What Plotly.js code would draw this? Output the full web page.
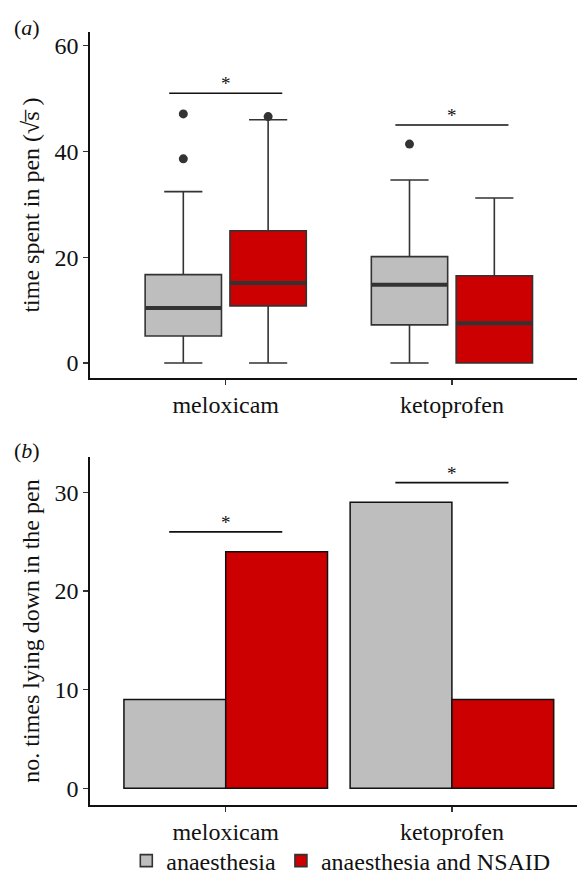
<!DOCTYPE html>
<html>
<head>
<meta charset="utf-8">
<script src="https://cdn.plot.ly/plotly-3.0.1.min.js"></script>
<style>html,body{margin:0;padding:0;background:#fff;}#chart{width:577px;height:879px;}</style>
</head>
<body>
<div id="chart"></div>
<script>
// ---- data ----
const categories = ['meloxicam', 'ketoprofen'];
const groupNames = ['anaesthesia', 'anaesthesia and NSAID'];

// panel (a): time spent in pen (sqrt s), box statistics
const anaQ1 = [5.1, 7.2];
const anaMedian = [10.4, 14.8];
const anaQ3 = [16.7, 20.1];
const anaLow = [0, 0];
const anaHigh = [32.4, 34.6];
const anaOutlierCat = ['meloxicam', 'meloxicam', 'ketoprofen'];
const anaOutlierVal = [47.1, 38.6, 41.4];

const nsQ1 = [10.8, 0];
const nsMedian = [15.1, 7.5];
const nsQ3 = [25.0, 16.5];
const nsLow = [0, 0];
const nsHigh = [46.0, 31.2];
const nsOutlierCat = ['meloxicam'];
const nsOutlierVal = [46.6];

// panel (b): number of times lying down in the pen
const anaCount = [9, 29];
const nsCount = [24, 9];

// significance bars
const sigA = [51, 45];
const sigB = [26, 31];
const sigLabel = ['*', '*'];

const ticksA = [0, 20, 40, 60];
const ticksB = [0, 10, 20, 30];

// ---- styles ----
const GREY = '#bebebe';
const RED = '#cc0000';
const EDGE = '#333333';
const FONT = '"Liberation Serif", "Times New Roman", serif';
const FS = 24;

const traces = [];
function boxTrace(name, q1, med, q3, lo, hi, fill, grp, legend) {
  return {
    type: 'box', name: name, x: categories, q1: q1, median: med, q3: q3,
    lowerfence: lo, upperfence: hi, boxpoints: false,
    fillcolor: fill, line: {color: EDGE, width: 1.6},
    offsetgroup: grp, alignmentgroup: 'a', xaxis: 'x', yaxis: 'y',
    showlegend: legend, legendgroup: grp, hoverinfo: 'y'
  };
}
traces.push(boxTrace(groupNames[0], anaQ1, anaMedian, anaQ3, anaLow, anaHigh, GREY, 'ana', true));
traces.push(boxTrace(groupNames[1], nsQ1, nsMedian, nsQ3, nsLow, nsHigh, RED, 'ns', true));
// thick median overlays
traces.push(Object.assign(boxTrace('median', anaMedian, anaMedian, anaMedian, anaMedian, anaMedian, 'rgba(0,0,0,0)', 'ana', false), {line: {color: EDGE, width: 4}, hoverinfo: 'skip'}));
traces.push(Object.assign(boxTrace('median', nsMedian, nsMedian, nsMedian, nsMedian, nsMedian, 'rgba(0,0,0,0)', 'ns', false), {line: {color: EDGE, width: 4}, hoverinfo: 'skip'}));
// outliers
traces.push({type: 'scatter', mode: 'markers', x: anaOutlierCat, y: anaOutlierVal, marker: {color: EDGE, size: 9},
  offsetgroup: 'ana', alignmentgroup: 's', xaxis: 'x', yaxis: 'y', showlegend: false});
traces.push({type: 'scatter', mode: 'markers', x: nsOutlierCat, y: nsOutlierVal, marker: {color: EDGE, size: 9},
  offsetgroup: 'ns', alignmentgroup: 's', xaxis: 'x', yaxis: 'y', showlegend: false});
// bars
traces.push({type: 'bar', name: groupNames[0], x: categories, y: anaCount, marker: {color: GREY, line: {color: '#111', width: 1.5}},
  xaxis: 'x2', yaxis: 'y2', showlegend: false});
traces.push({type: 'bar', name: groupNames[1], x: categories, y: nsCount, marker: {color: RED, line: {color: '#111', width: 1.5}},
  xaxis: 'x2', yaxis: 'y2', showlegend: false});

const shapes = [];
const annotations = [];
categories.forEach((c, i) => {
  shapes.push({type: 'line', xref: 'x', yref: 'y', x0: c, x1: c, x0shift: -0.25, x1shift: 0.25, y0: sigA[i], y1: sigA[i], line: {color: '#111', width: 1.6}});
  shapes.push({type: 'line', xref: 'x2', yref: 'y2', x0: c, x1: c, x0shift: -0.25, x1shift: 0.25, y0: sigB[i], y1: sigB[i], line: {color: '#111', width: 1.6}});
  annotations.push({xref: 'x', yref: 'y', x: c, y: sigA[i], text: sigLabel[i], showarrow: false, yanchor: 'bottom', yshift: -3, font: {size: 19, color: '#111', family: FONT}});
  annotations.push({xref: 'x2', yref: 'y2', x: c, y: sigB[i], text: sigLabel[i], showarrow: false, yanchor: 'bottom', yshift: -3, font: {size: 19, color: '#111', family: FONT}});
});
annotations.push({xref: 'paper', yref: 'paper', x: -0.16, y: 1.006, xanchor: 'left', yanchor: 'middle', text: '(<i>a</i>)', showarrow: false, font: {size: 22, color: '#111', family: FONT}});
annotations.push({xref: 'paper', yref: 'paper', x: -0.16, y: 0.459, xanchor: 'left', yanchor: 'middle', text: '(<i>b</i>)', showarrow: false, font: {size: 22, color: '#111', family: FONT}});

const xCommon = {type: 'category', range: [-0.6, 1.553], showline: true, linecolor: '#111', linewidth: 1.6,
  ticks: 'outside', ticklen: 5, tickwidth: 1.4, tickcolor: '#333', showgrid: false, zeroline: false,
  tickfont: {size: FS, color: '#111', family: FONT}, automargin: false};
const yCommon = {showline: true, linecolor: '#111', linewidth: 1.6, ticks: 'outside', ticklen: 5, tickwidth: 1.4,
  tickcolor: '#333', showgrid: false, zeroline: false, tickfont: {size: FS, color: '#111', family: FONT}, automargin: false};

const layout = {
  width: 577, height: 879,
  margin: {l: 90, r: 0, t: 32, b: 74},
  paper_bgcolor: '#fff', plot_bgcolor: '#fff',
  font: {family: FONT, color: '#111'},
  boxmode: 'group', boxgap: 0.25, boxgroupgap: 0.1,
  scattermode: 'group', scattergap: 0.25,
  barmode: 'group', bargap: 0.1, bargroupgap: 0,
  xaxis: Object.assign({}, xCommon, {anchor: 'y', domain: [0, 1]}),
  yaxis: Object.assign({}, yCommon, {anchor: 'x', domain: [0.5524, 1], range: [-2.85, 62.6], tickvals: ticksA,
    title: {text: 'time spent in pen (√s\u0305 )', standoff: 8, font: {size: FS, color: '#111', family: FONT}}}),
  xaxis2: Object.assign({}, xCommon, {anchor: 'y2', domain: [0, 1]}),
  yaxis2: Object.assign({}, yCommon, {anchor: 'x2', domain: [0, 0.4502], range: [-1.7, 33.6], tickvals: ticksB,
    title: {text: 'no. times lying down in the pen', standoff: 8, font: {size: FS, color: '#111', family: FONT}}}),
  legend: {orientation: 'h', xref: 'paper', x: 0.515, xanchor: 'center', yref: 'container', y: 0.0205, yanchor: 'middle',
    bgcolor: 'rgba(0,0,0,0)', font: {size: FS, color: '#111', family: FONT}, itemwidth: 30, tracegroupgap: 0},
  shapes: shapes,
  annotations: annotations
};

Plotly.newPlot('chart', traces, layout, {displayModeBar: false, staticPlot: true});
</script>
</body>
</html>
